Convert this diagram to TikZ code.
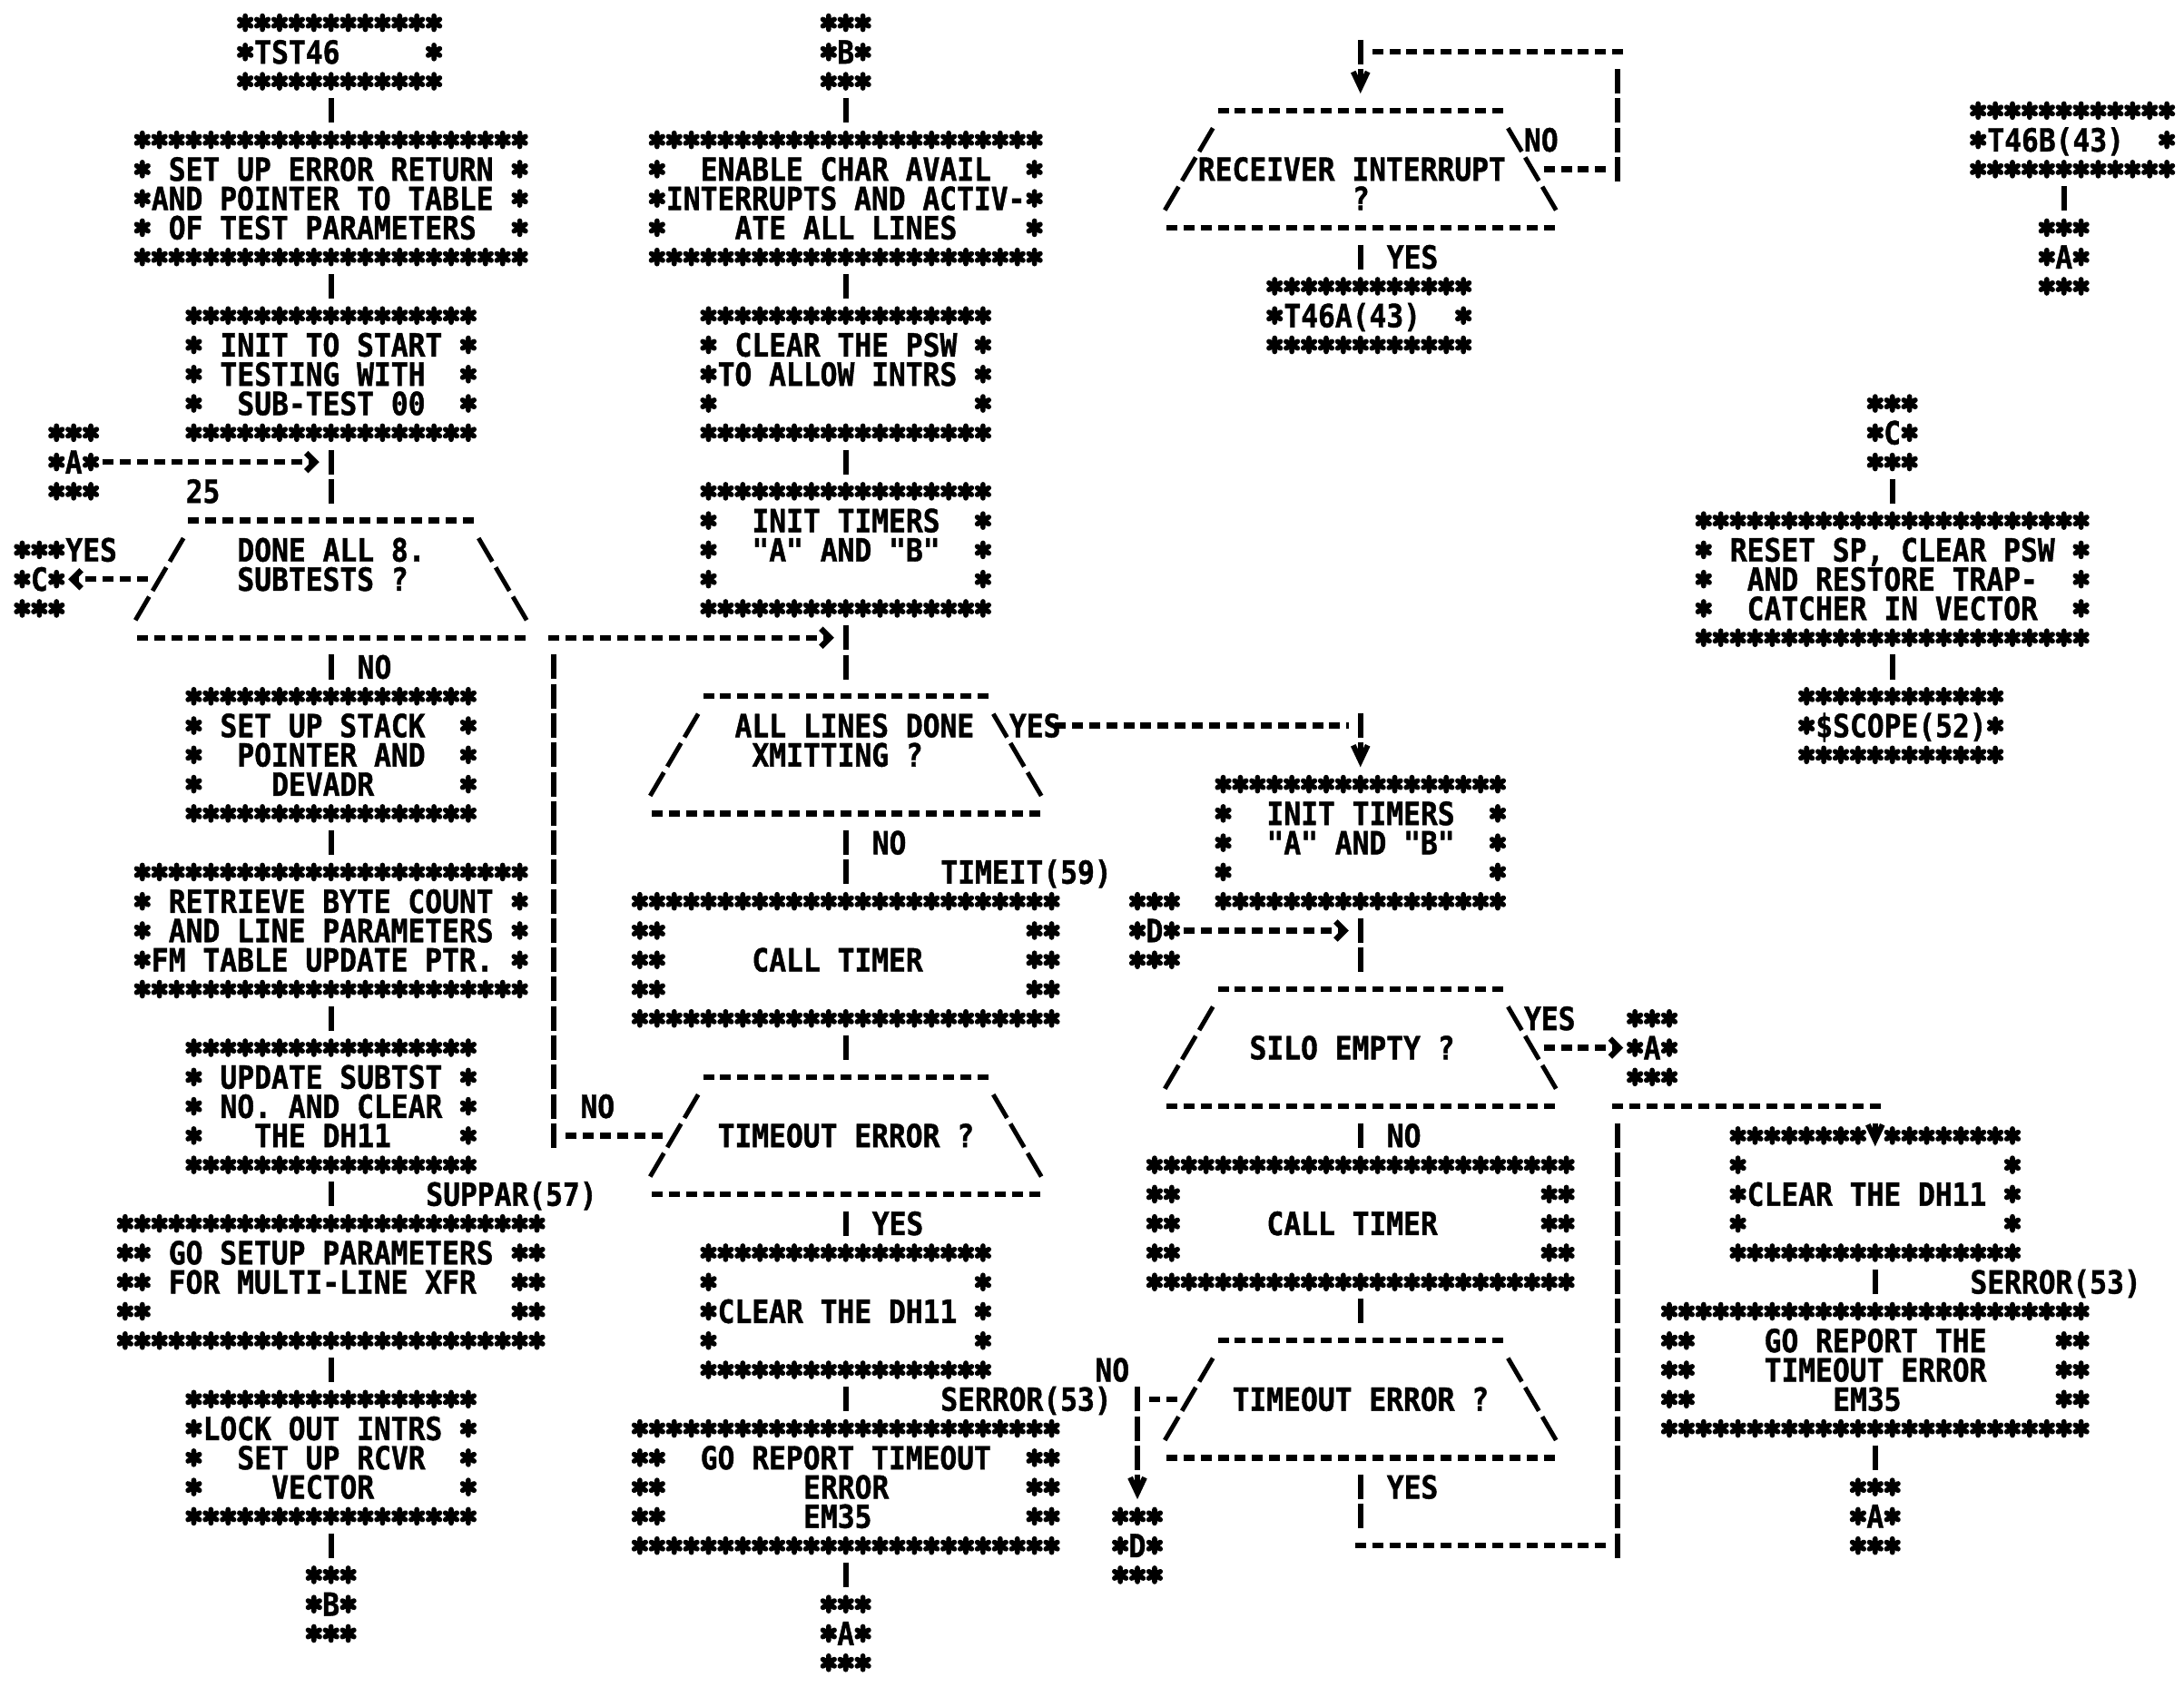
\documentclass[tikz,border=0pt]{standalone}
\usepackage{fontspec}
\newfontfamily\prfont{DejaVu Sans Mono}[FakeStretch=0.89, FakeBold=1.2]
\usetikzlibrary{calc,arrows.meta}

\begin{document}
\begin{tikzpicture}[
    x={(0.189cm,0cm)}, y={(0cm,-0.3227cm)},
    pr/.style={font=\prfont\bfseries\fontsize{10pt}{10pt}\selectfont},
    lab/.style={pr, anchor=base west, inner sep=0pt, xshift=-0.0945cm, yshift=-0.128cm},
    frm/.style 2 args={minimum width=#1*0.189cm, minimum height=#2*0.3227cm,
      inner sep=0pt, outer sep=0pt},
    con/.style={frm={3}{3}, pr},
    dec/.style={frm={21}{5}},
    hl/.style={line width=1.8pt, dash pattern=on 0.12cm off 0.069cm,
      shorten <=0.0345cm, shorten >=0.0345cm},
    vl/.style={line width=1.7pt, dash pattern=on 0.27cm off 0.0527cm,
      shorten <=0.0263cm, shorten >=0.0263cm},
    sl/.style={line width=1.4pt, dash pattern=on 0.299cm off 0.075cm},
    harr/.style={-{Straight Barb[length=0.1cm, width=0.2cm]}},
    varr/.style={-{Straight Barb[length=0.17cm, width=0.16cm]}},
    ast/.pic={\draw[line width=1.6pt, line cap=round]
      (0cm,-0.075cm) -- (0cm,0.075cm)
      (-0.063cm,-0.037cm) -- (0.063cm,0.037cm)
      (-0.063cm,0.037cm) -- (0.063cm,-0.037cm);}]
  \useasboundingbox (-1.294,-0.775) rectangle (126,56.8);

  % boxes, left column
  \node[frm={12}{3}] (tst) at (18.5,1) {};
  \node[frm={23}{5}] (erret) at (18,6) {};
  \node[frm={17}{5}] (init) at (18,12) {};
  \node[dec] (dn) at (18,19) {};
  \node[frm={17}{5}] (stack) at (18,25) {};
  \node[frm={23}{5}] (retr) at (18,31) {};
  \node[frm={17}{5}] (upd) at (18,37) {};
  \node[frm={25}{5}] (gosetup) at (18,43) {};
  \node[frm={17}{5}] (lock) at (18,49) {};
  % boxes, middle column
  \node[frm={23}{5}] (psw) at (48,6) {};
  \node[frm={17}{5}] (clr) at (48,12) {};
  \node[frm={17}{5}] (tim1) at (48,18) {};
  \node[dec] (al) at (48,25) {};
  \node[frm={25}{5}] (call1) at (48,32) {};
  \node[dec] (t1) at (48,38) {};
  \node[frm={17}{5}] (dh1) at (48,44) {};
  \node[frm={25}{5}] (rep1) at (48,50) {};
  % boxes, right part
  \node[dec] (rc) at (78,5) {};
  \node[frm={12}{3}] (t46a) at (78.5,10) {};
  \node[frm={17}{5}] (tim2) at (78,28) {};
  \node[dec] (se) at (78,35) {};
  \node[frm={25}{5}] (call2) at (78,41) {};
  \node[dec] (t2) at (78,47) {};
  \node[frm={12}{3}] (t46b) at (119.5,4) {};
  \node[frm={23}{5}] (reset) at (109,19) {};
  \node[frm={12}{3}] (scope) at (109.5,24) {};
  \node[frm={17}{5}] (dh2) at (108,40) {};
  \node[frm={25}{5}] (rep2) at (108,46) {};
  % connectors
  \node[con] (ca1) at (3,15) {A};
  \node[con] (cc1) at (1,19) {C};
  \node[con] (cb1) at (18,54) {B};
  \node[con] (cb2) at (48,1) {B};
  \node[con] (ca2) at (48,55) {A};
  \node[con] (cd1) at (66,31) {D};
  \node[con] (cd2) at (65,52) {D};
  \node[con] (ca3) at (95,35) {A};
  \node[con] (ca4) at (108,51) {A};
  \node[con] (ca5) at (119,8) {A};
  \node[con] (cc2) at (109,14) {C};

  % star frames
  \foreach \bx/\bw/\bh/\bs/\bg in {tst/12/3/1/0, erret/23/5/1/0, init/17/5/1/0,
      stack/17/5/1/0, retr/23/5/1/0, upd/17/5/1/0, gosetup/25/5/2/0, lock/17/5/1/0,
      psw/23/5/1/0, clr/17/5/1/0, tim1/17/5/1/0, call1/25/5/2/0, dh1/17/5/1/0,
      rep1/25/5/2/0, t46a/12/3/1/0, tim2/17/5/1/0, call2/25/5/2/0, t46b/12/3/1/0,
      reset/23/5/1/0, scope/12/3/1/0, dh2/17/5/1/9, rep2/25/5/2/0,
      ca1/3/3/1/0, cc1/3/3/1/0, cb1/3/3/1/0, cb2/3/3/1/0, ca2/3/3/1/0, cd1/3/3/1/0,
      cd2/3/3/1/0, ca3/3/3/1/0, ca4/3/3/1/0, ca5/3/3/1/0, cc2/3/3/1/0} {
    \pgfmathtruncatemacro\hh{\bh-1}
    \foreach \i in {1,...,\bw} {
      \ifnum\i=\bg\relax\else \pic at ($(\bx.north west)+(\i-0.5,0.5)$) {ast};\fi
      \pic at ($(\bx.south west)+(\i-0.5,-0.5)$) {ast};
    }
    \foreach \j in {2,...,\hh} \foreach \k in {1,...,\bs} {
      \pic at ($(\bx.north west)+(\k-0.5,\j-0.5)$) {ast};
      \pic at ($(\bx.north east)+(0.5-\k,\j-0.5)$) {ast};
    }
  }

  % decision outlines
  \foreach \d in {dn,al,rc,t1,se,t2} {
    \draw[hl] ($(\d.west)+(2,-2)$) -- ($(\d.east)+(-2,-2)$);
    \draw[hl] ($(\d.west)+(-1,2)$) -- ($(\d.east)+(1,2)$);
    \draw[sl] ($(\d.west)+(1.9,-1.4)$) -- ($(\d.west)+(-0.9,1.4)$);
    \draw[sl] ($(\d.east)+(-1.9,-1.4)$) -- ($(\d.east)+(0.9,1.4)$);
  }

  % texts
  \node[lab] (tst1) at (14,1) {TST46};
  \node[lab] (erret1) at (9,5) {SET UP ERROR RETURN};
  \node[lab] (erret2) at (8,6) {AND POINTER TO TABLE};
  \node[lab] (erret3) at (9,7) {OF TEST PARAMETERS};
  \node[lab] (init1) at (12,11) {INIT TO START};
  \node[lab] (init2) at (12,12) {TESTING WITH};
  \node[lab] (init3) at (13,13) {SUB-TEST 00};
  \node[lab] (dn1) at (13,18) {DONE ALL 8.};
  \node[lab] (dn2) at (13,19) {SUBTESTS ?};
  \node[lab] (stack1) at (12,24) {SET UP STACK};
  \node[lab] (stack2) at (13,25) {POINTER AND};
  \node[lab] (stack3) at (15,26) {DEVADR};
  \node[lab] (retr1) at (9,30) {RETRIEVE BYTE COUNT};
  \node[lab] (retr2) at (9,31) {AND LINE PARAMETERS};
  \node[lab] (retr3) at (8,32) {FM TABLE UPDATE PTR.};
  \node[lab] (upd1) at (12,36) {UPDATE SUBTST};
  \node[lab] (upd2) at (12,37) {NO. AND CLEAR};
  \node[lab] (upd3) at (14,38) {THE DH11};
  \node[lab] (gos1) at (9,42) {GO SETUP PARAMETERS};
  \node[lab] (gos2) at (9,43) {FOR MULTI-LINE XFR};
  \node[lab] (lock1) at (11,48) {LOCK OUT INTRS};
  \node[lab] (lock2) at (13,49) {SET UP RCVR};
  \node[lab] (lock3) at (15,50) {VECTOR};
  \node[lab] (psw1) at (40,5) {ENABLE CHAR AVAIL};
  \node[lab] (psw2) at (38,6) {INTERRUPTS AND ACTIV-};
  \node[lab] (psw3) at (42,7) {ATE ALL LINES};
  \node[lab] (clr1) at (42,11) {CLEAR THE PSW};
  \node[lab] (clr2) at (41,12) {TO ALLOW INTRS};
  \node[lab] (tim1a) at (43,17) {INIT TIMERS};
  \node[lab] (tim1b) at (43,18) {"A" AND "B"};
  \node[lab] (al1) at (42,24) {ALL LINES DONE};
  \node[lab] (al2) at (43,25) {XMITTING ?};
  \node[lab] (call1a) at (43,32) {CALL TIMER};
  \node[lab] (t1a) at (41,38) {TIMEOUT ERROR ?};
  \node[lab] (dh1a) at (41,44) {CLEAR THE DH11};
  \node[lab] (rep1a) at (40,49) {GO REPORT TIMEOUT};
  \node[lab] (rep1b) at (46,50) {ERROR};
  \node[lab] (rep1c) at (46,51) {EM35};
  \node[lab] (rc1) at (69,5) {RECEIVER INTERRUPT};
  \node[lab] (rc2) at (78,6) {?};
  \node[lab] (t46a1) at (74,10) {T46A(43)};
  \node[lab] (tim2a) at (73,27) {INIT TIMERS};
  \node[lab] (tim2b) at (73,28) {"A" AND "B"};
  \node[lab] (se1) at (72,35) {SILO EMPTY ?};
  \node[lab] (call2a) at (73,41) {CALL TIMER};
  \node[lab] (t2a) at (71,47) {TIMEOUT ERROR ?};
  \node[lab] (t46b1) at (115,4) {T46B(43)};
  \node[lab] (reset1) at (100,18) {RESET SP, CLEAR PSW};
  \node[lab] (reset2) at (101,19) {AND RESTORE TRAP-};
  \node[lab] (reset3) at (101,20) {CATCHER IN VECTOR};
  \node[lab] (scope1) at (105,24) {\$SCOPE(52)};
  \node[lab] (dh2a) at (101,40) {CLEAR THE DH11};
  \node[lab] (rep2a) at (102,45) {GO REPORT THE};
  \node[lab] (rep2b) at (102,46) {TIMEOUT ERROR};
  \node[lab] (rep2c) at (106,47) {EM35};
  % branch labels
  \node[lab] (n25) at (10,16) {25};
  \node[lab] (dnyes) at (3,18) {YES};
  \node[lab] (dnno) at (20,22) {NO};
  \node[lab] (t1no) at (33,37) {NO};
  \node[lab] (suppar) at (24,40) {SUPPAR(57)};
  \node[lab] (alyes) at (58,24) {YES};
  \node[lab] (alno) at (50,28) {NO};
  \node[lab] (timeit) at (54,29) {TIMEIT(59)};
  \node[lab] (t1yes) at (50,41) {YES};
  \node[lab] (serr1) at (54,47) {SERROR(53)};
  \node[lab] (t2no) at (63,46) {NO};
  \node[lab] (rcno) at (88,4) {NO};
  \node[lab] (rcyes) at (80,8) {YES};
  \node[lab] (seyes) at (88,34) {YES};
  \node[lab] (seno) at (80,38) {NO};
  \node[lab] (t2yes) at (80,50) {YES};
  \node[lab] (serr2) at (114,43) {SERROR(53)};

  % straight flow
  \foreach \ua/\ub in {tst/erret, erret/init, init/dn, dn/stack, stack/retr,
      retr/upd, upd/gosetup, gosetup/lock, lock/cb1, cb2/psw, psw/clr, clr/tim1,
      tim1/al, al/call1, call1/t1, t1/dh1, dh1/rep1, rep1/ca2, t46b/ca5,
      cc2/reset, tim2/se, se/call2, call2/t2, dh2/rep2, rep2/ca4}
    \draw[vl] (\ua.south -| \ub.north) -- (\ub.north);
  \draw[vl] (rc.south) -- (rc.south |- t46a.north);
  \draw[vl] (reset.south) -- (reset.south |- scope.north);

  % entries from connectors
  \draw[hl, harr] (ca1.east) -- ($(ca1.east -| init.south)+(-0.5,0)$);
  \draw[hl, harr] (dn.west) -- (cc1.east);
  \draw[hl, harr] (cd1.east) -- ($(cd1.east -| tim2.south)+(-0.5,0)$);
  \draw[hl, harr] (se.east) -- (ca3.west);

  % timeout loop back
  \coordinate (lp) at (31,21);
  \draw[hl] (t1.west) -- ($(lp |- t1.west)+(0.5,0)$);
  \draw[vl] ($(lp |- t1.west)+(0,0.5)$) -- ($(lp)+(0,0.5)$);
  \draw[hl, harr] ($(lp)+(-0.5,0)$) -- ($(lp -| al.north)+(-0.5,0)$);

  % all lines done
  \draw[hl] ($(al.east)+(1.5,-1)$) -- ($(tim2.north)+(-0.5,-1.5)$);
  \draw[vl, varr] ($(tim2.north)+(0,-2)$) -- (tim2.north);

  % receiver wait loop
  \coordinate (rq) at (93,1);
  \draw[hl] (rc.east) -- ($(rq |- rc.east)+(-0.5,0)$);
  \draw[vl] ($(rq |- rc.east)+(0,0.5)$) -- ($(rq)+(0,0.5)$);
  \draw[hl] ($(rq)+(0.5,0)$) -- ($(rq -| rc.north)+(0.5,0)$);
  \draw[vl, varr] ($(rq -| rc.north)+(0,-0.5)$) -- (rc.north);

  % silo timeout
  \draw[hl] (t2.west) -- ($(cd2.north |- t2.west)+(0.5,0)$);
  \draw[vl, varr] ($(cd2.north |- t2.west)+(0,-0.5)$) -- (cd2.north);
  \coordinate (rb) at (93,52);
  \coordinate (rt) at (93,37);
  \draw[vl] (t2.south) -- ($(t2.south)+(0,2)$);
  \draw[hl] ($(rb -| t2.south)+(-0.5,0)$) -- ($(rb)+(-0.5,0)$);
  \draw[vl] ($(rb)+(0,0.5)$) -- ($(rt)+(0,0.5)$);
  \draw[hl] ($(rt)+(-0.5,0)$) -- ($(rt -| dh2.north)+(0.5,0)$);
  \draw[vl, varr] (dh2.north) -- ($(dh2.north)+(0,0.95)$);
\end{tikzpicture}
\end{document}
